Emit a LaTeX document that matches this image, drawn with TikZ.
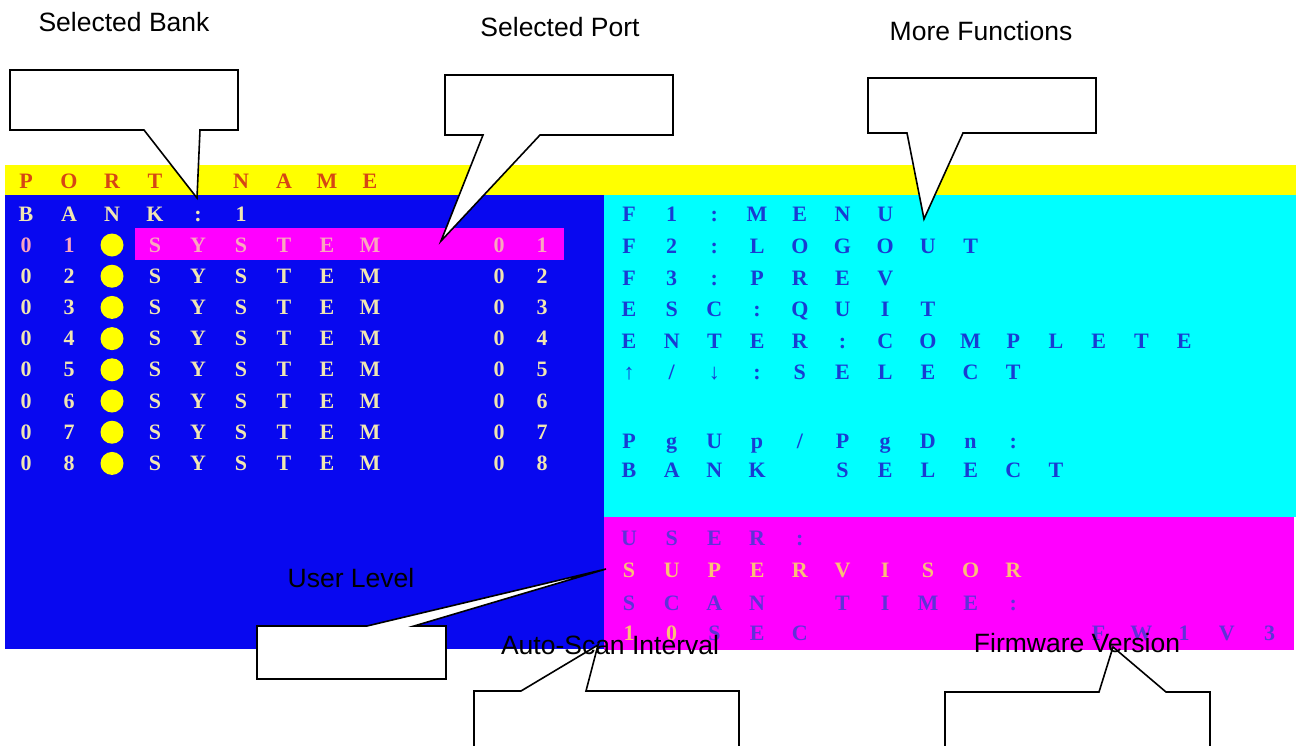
\documentclass[tikz,border=0pt]{standalone}
\usepackage{fontspec}
\setmainfont{Liberation Serif}
\newfontfamily\labelfont{Liberation Sans}
\definecolor{scrblue}{RGB}{8,8,240}
\definecolor{scryellow}{RGB}{255,255,0}
\definecolor{scrcyan}{RGB}{0,255,255}
\definecolor{scrmagenta}{RGB}{255,0,255}
\definecolor{hdrtext}{RGB}{214,70,20}
\definecolor{cream}{RGB}{240,230,178}
\definecolor{hilite}{RGB}{250,165,190}
\definecolor{keytext}{RGB}{25,60,210}
\definecolor{dimtext}{RGB}{95,50,215}
\definecolor{peach}{RGB}{250,190,120}
\tikzset{
	scr/.style={font=\bfseries\fontsize{22}{22}\selectfont, inner sep=0pt, text height=14pt, text depth=0pt},
	lbl/.style={font=\labelfont\fontsize{26.5}{26.5}\selectfont, inner sep=0pt},
	callout/.style={draw=black, fill=white, line width=1.6pt, line join=miter}
}
% one row of the screen: x0, pitch, y, colour, name, letters
\newcommand{\scrline}[6]{%
	\foreach \ch [count=\i from 0] in {#6} {\node[scr, text=#4] (#5\i) at (#1+#2*\i, #3) {\ch};}
}
\begin{document}
\begin{tikzpicture}[x=1pt,y=-1pt]
	\useasboundingbox (0,0) rectangle (1296,745);
	\clip (0,0) rectangle (1296,745);
	\fill[scryellow] (5,165) rectangle (1296,195);
	\fill[scrblue] (5,195) rectangle (604,649);
	\fill[scrcyan] (604,195) rectangle (1296,517);
	\fill[scrmagenta] (604,517) rectangle (1294,650);
	\fill[scrmagenta] (135,228) rectangle (564,260);

	\scrline{26}{43}{181}{hdrtext}{hdr}{P,O,R,T,,N,A,M,E}
	\scrline{26}{43}{214}{cream}{bank}{B,A,N,K,:,1}
	\foreach \r in {1,...,8} {
		\pgfmathsetmacro{\yy}{245+31.2*(\r-1)}
		\ifnum\r=1 \def\rc{hilite}\else\def\rc{cream}\fi
		\scrline{26}{43}{\yy}{\rc}{port\r-}{0,\r,,S,Y,S,T,E,M,,,0,\r}
		\fill[scryellow] (112,\yy) circle (11.5);
	}

	\scrline{629}{42.7}{214}{keytext}{fa}{F,1,:,M,E,N,U}
	\scrline{629}{42.7}{246}{keytext}{fb}{F,2,:,L,O,G,O,U,T}
	\scrline{629}{42.7}{278}{keytext}{fc}{F,3,:,P,R,E,V}
	\scrline{629}{42.7}{309}{keytext}{esc}{E,S,C,:,Q,U,I,T}
	\scrline{629}{42.7}{341}{keytext}{ent}{E,N,T,E,R,:,C,O,M,P,L,E,T,E}
	\scrline{629}{42.7}{372}{keytext}{arr}{↑,/,↓,:,S,E,L,E,C,T}
	\scrline{629}{42.7}{441}{keytext}{pg}{P,g,U,p,/,P,g,D,n,:}
	\scrline{629}{42.7}{470}{keytext}{bsel}{B,A,N,K,,S,E,L,E,C,T}

	\scrline{629}{42.7}{538}{dimtext}{usr}{U,S,E,R,:}
	\scrline{629}{42.7}{570}{peach}{sup}{S,U,P,E,R,V,I,S,O,R}
	\scrline{629}{42.7}{603}{dimtext}{scan}{S,C,A,N,,T,I,M,E,:}
	\scrline{629}{42.7}{633}{peach}{ten}{1,0}
	\scrline{714.4}{42.7}{633}{dimtext}{sec}{S,E,C}
	\scrline{1098.7}{42.7}{633}{dimtext}{fw}{F,W,1,V,3}

	\draw[callout] (10,70) -- (238,70) -- (238,130) -- (200,130) -- (197,198) -- (144,130) -- (10,130) -- cycle;
	\draw[callout] (445,75) -- (673,75) -- (673,135) -- (540,135) -- (441,241) -- (483,135) -- (445,135) -- cycle;
	\draw[callout] (868,78) -- (1096,78) -- (1096,133) -- (963,133) -- (924,219) -- (907,133) -- (868,133) -- cycle;
	\draw[callout] (257,626) -- (367,626) -- (606,569) -- (414,626) -- (446,626) -- (446,679) -- (257,679) -- cycle;
	\draw[callout] (474,691) -- (521,691) -- (598,645) -- (586,691) -- (739,691) -- (739,760) -- (474,760) -- cycle;
	\draw[callout] (945,692) -- (1099,692) -- (1113,647) -- (1166,692) -- (1210,692) -- (1210,760) -- (945,760) -- cycle;

	\node[lbl] (bank) at (124,22) {Selected Bank};
	\node[lbl] (port) at (560,27) {Selected Port};
	\node[lbl] (more) at (981,31) {More Functions};
	\node[lbl] (user) at (351,578) {User Level};
	\node[lbl] (auto) at (610,645) {Auto-Scan Interval};
	\node[lbl] (firm) at (1077,643) {Firmware Version};
\end{tikzpicture}
\end{document}
